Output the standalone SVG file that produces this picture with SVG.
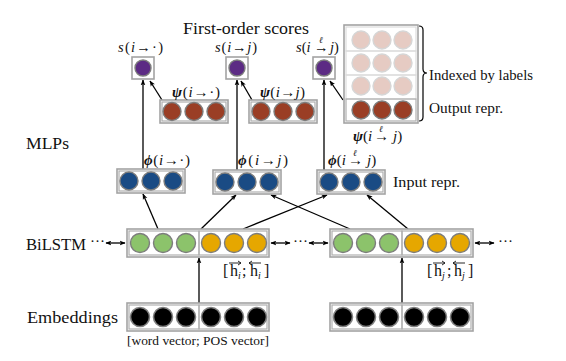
<svg xmlns="http://www.w3.org/2000/svg" width="566" height="361" viewBox="0 0 566 361">
<defs>
<style>
text{font-family:"Liberation Serif","DejaVu Serif",serif;fill:#111}
.lbl{font-size:17.5px}
.sm{font-size:15px}
.m{font-size:14.5px}
.mb{font-size:15px}
.it{font-style:italic}
.bi{font-style:italic;font-weight:bold}
.ell{font-style:italic;font-size:9px}
.ob{fill:#fff;stroke:#a3a3a3;stroke-width:1.6}
.ib{fill:none;stroke:#b0b0b0;stroke-width:1.2}
.ibl{fill:none;stroke:#dcdcdc;stroke-width:1.2}
.c{stroke:#7d7d7d;stroke-width:1.4}
.purple{fill:#5c2b84}
.brown{fill:#9a3e25}
.pink{fill:#e6cbc3;stroke:#d6d6d6;stroke-width:1.4}
.blue{fill:#1a4b84}
.green{fill:#8cc36b}
.orange{fill:#e6a700}
.black{fill:#000;stroke:#808080;stroke-width:1.6}
.arr{stroke:#000;stroke-width:1.3;fill:none;marker-end:url(#ah)}
.dbl{stroke:#000;stroke-width:1.3;fill:none;marker-end:url(#ah);marker-start:url(#ahs)}
.ovr{stroke:#111;stroke-width:0.9;fill:none}
</style>
<marker id="ah" viewBox="0 0 10 10" refX="9" refY="5" markerWidth="6" markerHeight="6" orient="auto" markerUnits="userSpaceOnUse"><path d="M0,1 L10,5 L0,9 L2.5,5 Z" fill="#000"/></marker>
<marker id="ahs" viewBox="0 0 10 10" refX="1" refY="5" markerWidth="6" markerHeight="6" orient="auto" markerUnits="userSpaceOnUse"><path d="M10,1 L0,5 L10,9 L7.5,5 Z" fill="#000"/></marker>
</defs>
<rect width="566" height="361" fill="#fff"/>

<text class="lbl" x="183" y="34" textLength="126" lengthAdjust="spacingAndGlyphs">First-order scores</text>
<text class="lbl" x="26" y="149" textLength="43" lengthAdjust="spacingAndGlyphs">MLPs</text>
<text class="lbl" x="26" y="250" textLength="60" lengthAdjust="spacingAndGlyphs">BiLSTM</text>
<text class="lbl" x="27" y="323" textLength="91" lengthAdjust="spacingAndGlyphs">Embeddings</text>

<g id="connectors">
<line class="arr" x1="143" y1="169" x2="143" y2="80"/>
<line class="arr" x1="237" y1="170" x2="237" y2="80"/>
<line class="arr" x1="324" y1="170" x2="324" y2="80"/>
<line class="arr" x1="162" y1="100" x2="150" y2="81"/>
<line class="arr" x1="252" y1="100" x2="241" y2="81"/>
<line class="arr" x1="343" y1="100" x2="330" y2="81"/>
<line class="arr" x1="158" y1="229" x2="143" y2="194"/>
<line class="arr" x1="201" y1="229" x2="236" y2="195"/>
<line class="arr" x1="243" y1="229" x2="327" y2="195"/>
<line class="arr" x1="350" y1="229" x2="271" y2="195"/>
<line class="arr" x1="408" y1="229" x2="367" y2="195"/>
<line class="arr" x1="199" y1="303" x2="199" y2="258"/>
<line class="arr" x1="402" y1="303" x2="402" y2="258"/>
<line class="dbl" x1="106" y1="243" x2="125" y2="243"/>
<line class="dbl" x1="271" y1="243" x2="290" y2="243"/>
<line class="dbl" x1="309" y1="243" x2="328" y2="243"/>
<line class="dbl" x1="475" y1="243" x2="494" y2="243"/>
<text class="sm" x="90" y="246">···</text>
<text class="sm" x="293" y="246">···</text>
<text class="sm" x="498" y="246">···</text>
</g>

<g id="s1">
<rect class="ob" x="132" y="57" width="22" height="22"/>
<circle class="c purple" cx="143" cy="68" r="8"/>
<text class="m" x="118" y="52" textLength="45" lengthAdjust="spacing"><tspan class="it">s</tspan>(<tspan class="it">i</tspan>→·)</text>
</g>
<g id="s2">
<rect class="ob" x="226" y="57" width="22" height="22"/>
<circle class="c purple" cx="237" cy="68" r="8"/>
<text class="m" x="215" y="52" textLength="42" lengthAdjust="spacing"><tspan class="it">s</tspan>(<tspan class="it">i</tspan>→<tspan class="it">j</tspan>)</text>
</g>
<g id="s3">
<rect class="ob" x="313" y="57" width="22" height="22"/>
<circle class="c purple" cx="324" cy="68" r="8"/>
<text class="m" x="296" y="52"><tspan class="it">s</tspan>(<tspan class="it">i</tspan><tspan x="314">→</tspan><tspan x="319" dy="-9" class="ell">ℓ</tspan><tspan x="330" dy="9" class="it">j</tspan>)</text>
</g>

<g id="psi1">
<rect class="ob" x="160" y="100" width="68" height="23"/>
<rect class="ib" x="162" y="102" width="64" height="19"/>
<circle class="c brown" cx="172" cy="111.5" r="9"/>
<circle class="c brown" cx="194" cy="111.5" r="9"/>
<circle class="c brown" cx="216" cy="111.5" r="9"/>
<text class="mb" x="172" y="97" textLength="48" lengthAdjust="spacing"><tspan class="bi">ψ</tspan>(<tspan class="it">i</tspan>→·)</text>
</g>
<g id="psi2">
<rect class="ob" x="249" y="100" width="68" height="23"/>
<rect class="ib" x="251" y="102" width="64" height="19"/>
<circle class="c brown" cx="261" cy="111.5" r="9"/>
<circle class="c brown" cx="283" cy="111.5" r="9"/>
<circle class="c brown" cx="305" cy="111.5" r="9"/>
<text class="mb" x="260" y="97" textLength="45" lengthAdjust="spacing"><tspan class="bi">ψ</tspan>(<tspan class="it">i</tspan>→<tspan class="it">j</tspan>)</text>
</g>
<g id="psi3">
<rect class="ob" x="344" y="25" width="74" height="98"/>
<rect class="ibl" x="346" y="27" width="70" height="24"/>
<rect class="ibl" x="346" y="51" width="70" height="24"/>
<rect class="ibl" x="346" y="75" width="70" height="24"/>
<rect class="ib" x="346" y="99" width="70" height="22" stroke="#8c8c8c"/>
<circle class="pink" cx="361" cy="40" r="9"/><circle class="pink" cx="382" cy="40" r="9"/><circle class="pink" cx="403" cy="40" r="9"/>
<circle class="pink" cx="361" cy="63" r="9"/><circle class="pink" cx="382" cy="63" r="9"/><circle class="pink" cx="403" cy="63" r="9"/>
<circle class="pink" cx="361" cy="86" r="9"/><circle class="pink" cx="382" cy="86" r="9"/><circle class="pink" cx="403" cy="86" r="9"/>
<circle class="c brown" cx="361" cy="110" r="9"/><circle class="c brown" cx="382" cy="110" r="9"/><circle class="c brown" cx="403" cy="110" r="9"/>
<path d="M419,26 Q423,26 423,30 L423,69 Q423,73 427,73 Q423,73 423,77 L423,117 Q423,121 419,121" fill="none" stroke="#000" stroke-width="1.2"/>
<text class="sm" x="429" y="80" textLength="104" lengthAdjust="spacingAndGlyphs">Indexed by labels</text>
<text class="sm" x="429" y="113" textLength="74" lengthAdjust="spacingAndGlyphs">Output repr.</text>
<text class="mb" x="353" y="141"><tspan class="bi">ψ</tspan>(<tspan class="it">i</tspan><tspan x="374">→</tspan><tspan x="379" dy="-9" class="ell">ℓ</tspan><tspan x="393" dy="9" class="it">j</tspan>)</text>
</g>

<g id="phi1">
<rect class="ob" x="117" y="169" width="68" height="24"/>
<rect class="ib" x="119" y="171" width="64" height="20"/>
<circle class="c blue" cx="129" cy="181" r="9"/>
<circle class="c blue" cx="151" cy="181" r="9"/>
<circle class="c blue" cx="173" cy="181" r="9"/>
<text class="mb" x="144" y="165" textLength="46" lengthAdjust="spacing"><tspan class="bi">ϕ</tspan>(<tspan class="it">i</tspan>→·)</text>
</g>
<g id="phi2">
<rect class="ob" x="213" y="170" width="68" height="24"/>
<rect class="ib" x="215" y="172" width="64" height="20"/>
<circle class="c blue" cx="225" cy="182" r="9"/>
<circle class="c blue" cx="247" cy="182" r="9"/>
<circle class="c blue" cx="269" cy="182" r="9"/>
<text class="mb" x="238" y="165" textLength="50" lengthAdjust="spacing"><tspan class="bi">ϕ</tspan>(<tspan class="it">i</tspan>→<tspan class="it">j</tspan>)</text>
</g>
<g id="phi3">
<rect class="ob" x="317" y="170" width="68" height="24"/>
<rect class="ib" x="319" y="172" width="64" height="20"/>
<circle class="c blue" cx="329" cy="182" r="9"/>
<circle class="c blue" cx="351" cy="182" r="9"/>
<circle class="c blue" cx="373" cy="182" r="9"/>
<text class="mb" x="328" y="165"><tspan class="bi">ϕ</tspan>(<tspan class="it">i</tspan><tspan x="348">→</tspan><tspan x="353" dy="-9" class="ell">ℓ</tspan><tspan x="367" dy="9" class="it">j</tspan>)</text>
<text class="sm" x="393" y="187" textLength="67" lengthAdjust="spacingAndGlyphs">Input repr.</text>
</g>

<g id="bilstm_i">
<rect class="ob" x="127" y="229" width="142" height="28"/>
<rect class="ib" x="129" y="231" width="70" height="24"/>
<rect class="ib" x="199" y="231" width="68" height="24"/>
<circle class="c green" cx="140" cy="243" r="9.5"/><circle class="c green" cx="163" cy="243" r="9.5"/><circle class="c green" cx="186" cy="243" r="9.5"/>
<circle class="c orange" cx="211" cy="243" r="9.5"/><circle class="c orange" cx="234" cy="243" r="9.5"/><circle class="c orange" cx="257" cy="243" r="9.5"/>
<text font-size="16" y="276"><tspan x="223">[</tspan><tspan x="230">h</tspan><tspan x="238" dy="3" class="it" font-size="10">i</tspan><tspan x="242" dy="-3">;</tspan><tspan x="250">h</tspan><tspan x="258" dy="3" class="it" font-size="10">i</tspan><tspan x="264" dy="-3">]</tspan></text>
<path class="ovr" d="M229,263 H241 M238,261 L241,263 L238,265 M249,263 H261 M252,261 L249,263 L252,265"/>
</g>
<g id="bilstm_j">
<rect class="ob" x="330" y="229" width="143" height="28"/>
<rect class="ib" x="332" y="231" width="70" height="24"/>
<rect class="ib" x="402" y="231" width="69" height="24"/>
<circle class="c green" cx="343" cy="243" r="9.5"/><circle class="c green" cx="366" cy="243" r="9.5"/><circle class="c green" cx="389" cy="243" r="9.5"/>
<circle class="c orange" cx="414" cy="243" r="9.5"/><circle class="c orange" cx="437" cy="243" r="9.5"/><circle class="c orange" cx="460" cy="243" r="9.5"/>
<text font-size="16" y="276"><tspan x="427">[</tspan><tspan x="434">h</tspan><tspan x="442" dy="3" class="it" font-size="10">j</tspan><tspan x="447" dy="-3">;</tspan><tspan x="454">h</tspan><tspan x="462" dy="3" class="it" font-size="10">j</tspan><tspan x="468" dy="-3">]</tspan></text>
<path class="ovr" d="M433,263 H445 M442,261 L445,263 L442,265 M453,263 H465 M456,261 L453,263 L456,265"/>
</g>

<g id="emb_i">
<rect class="ob" x="127" y="303" width="142" height="28"/>
<rect class="ib" x="129" y="305" width="70" height="24"/>
<rect class="ib" x="199" y="305" width="68" height="24"/>
<circle class="black" cx="140" cy="317" r="9.5"/><circle class="black" cx="163" cy="317" r="9.5"/><circle class="black" cx="186" cy="317" r="9.5"/>
<circle class="black" cx="211" cy="317" r="9.5"/><circle class="black" cx="234" cy="317" r="9.5"/><circle class="black" cx="257" cy="317" r="9.5"/>
<text x="127" y="345" font-size="13.5" textLength="142" lengthAdjust="spacingAndGlyphs">[word vector; POS vector]</text>
</g>
<g id="emb_j">
<rect class="ob" x="330" y="303" width="143" height="28"/>
<rect class="ib" x="332" y="305" width="70" height="24"/>
<rect class="ib" x="402" y="305" width="69" height="24"/>
<circle class="black" cx="343" cy="317" r="9.5"/><circle class="black" cx="366" cy="317" r="9.5"/><circle class="black" cx="389" cy="317" r="9.5"/>
<circle class="black" cx="414" cy="317" r="9.5"/><circle class="black" cx="437" cy="317" r="9.5"/><circle class="black" cx="460" cy="317" r="9.5"/>
</g>
</svg>
